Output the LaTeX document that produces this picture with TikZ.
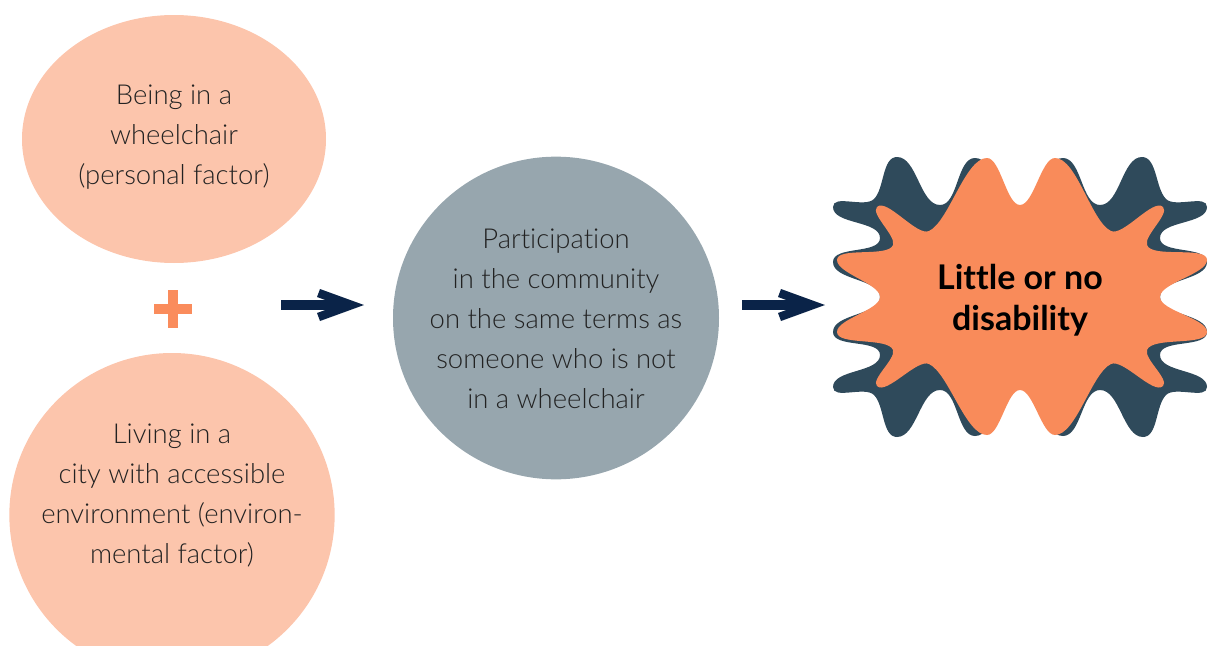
\documentclass[tikz,border=0pt]{standalone}
\usepackage{fontspec}
\setmainfont{Lato}[UprightFont={* Light}, BoldFont={* Bold}, Ligatures=NoCommon]
\usetikzlibrary{shapes.geometric,calc}
\definecolor{peach}{HTML}{FCC5AC}
\definecolor{slate}{HTML}{97A6AE}
\definecolor{burstdark}{HTML}{2F4A5B}
\definecolor{burstorange}{HTML}{F98B5A}
\definecolor{navy}{HTML}{0A2348}
\definecolor{plusorange}{HTML}{FA8C5C}
\definecolor{txt}{HTML}{222222}
\begin{document}
\begin{tikzpicture}[x=0.75pt, y=-0.75pt,
  bubble/.style={ellipse, inner sep=0pt, draw=none},
  bubbletext/.style={align=center, text=txt, inner sep=0pt, font=\fontsize{20.6}{30}\selectfont},
  bursttext/.style={align=center, text=black, inner sep=0pt, font=\bfseries\fontsize{25.5}{30.8}\selectfont},
  shaft/.style={line width=7pt, draw=navy},
  headfill/.style={fill=navy}]
\useasboundingbox (0,0) rectangle (1208,646);
\clip (0,0) rectangle (1208,646);

% left bubbles
\node[bubble, fill=peach, minimum width=228pt, minimum height=186pt] (personalshape) at (174,139) {};
\node[bubbletext] (personal) at (174,137) {Being in a\\wheelchair\\(personal factor)};
\node[bubble, fill=peach, minimum width=244pt, minimum height=243pt] (envshape) at (172,515) {};
\node[bubbletext] (env) at (172,496) {Living in a\\city with accessible\\environment (environ-\\mental factor)};

% plus sign
\fill[plusorange] (154,304) rectangle (192,314);
\fill[plusorange] (168,290) rectangle (178,328);

% middle circle
\node[bubble, fill=slate, minimum width=244.5pt, minimum height=242pt] (partshape) at (556,318) {};
\node[bubbletext] (part) at (556,319) {Participation\\in the community\\on the same terms as\\someone who is not\\in a wheelchair};

% starburst: dark back shape
\fill[burstdark] (897,157)
  \foreach \x/\y/\d/\i [remember=\d as \ld (initially 0)] in {
    940/205/0/180, 975/158/0/180, 1018/208/0/180, 1063/158/0/180, 1100/205/0/180, 1142/157/0/180,
    1166/199/315/135,
    1207/207/270/90, 1160/238/270/90, 1207/262/270/90, 1160/297/270/90, 1207/332/270/90, 1160/355/270/90, 1207/387/270/90,
    1166/395/225/45,
    1143/437/180/0, 1100/390/180/0, 1063/436/180/0, 1018/387/180/0, 975/436/180/0, 940/390/180/0, 897/437/180/0,
    874/395/135/315,
    833/387/90/270, 880/355/90/270, 833/332/90/270, 880/297/90/270, 833/262/90/270, 880/238/90/270, 833/207/90/270,
    874/199/45/225,
    897/157/0/180}
  { to[out=\ld, in=\i, looseness=0.8] (\x,\y) } -- cycle;

% starburst: orange front shape
\fill[burstorange] (877,207)
  \foreach \x/\y/\d/\i [remember=\d as \ld (initially 45)] in {
    929/231/25/205, 987/158/0/180, 1020/205/0/180, 1055/158/0/180, 1111/231/335/155,
    1163/207/315/135,
    1147/245/290/110, 1207/260/270/90, 1160/297/270/90, 1207/332/270/90, 1147/350/250/70,
    1163/386/225/45,
    1111/364/205/25, 1055/435/180/0, 1020/390/180/0, 987/435/180/0, 929/364/155/335,
    877/386/135/315,
    893/350/110/290, 837/332/90/270, 880/297/90/270, 837/260/90/270, 893/245/70/250,
    877/207/45/225}
  { to[out=\ld, in=\i, looseness=0.6] (\x,\y) } -- cycle;

\node[bursttext] (burst) at (1020,300) {Little or no\\disability};

% arrows
\coordinate (a1s) at (281,305);
\coordinate (a1e) at (364,305);
\coordinate (a2s) at (742,305);
\coordinate (a2e) at (825,305);
\foreach \s/\e in {a1s/a1e, a2s/a2e}{
  \draw[shaft] (\s) -- ($(\e)+(-22,0)$);
  \fill[headfill, shift={(\e)}] (0,0) -- (-44,-16) -- (-47,-8) -- (-25,0) -- (-47,8) -- (-44,16) -- cycle;
}
\end{tikzpicture}
\end{document}
